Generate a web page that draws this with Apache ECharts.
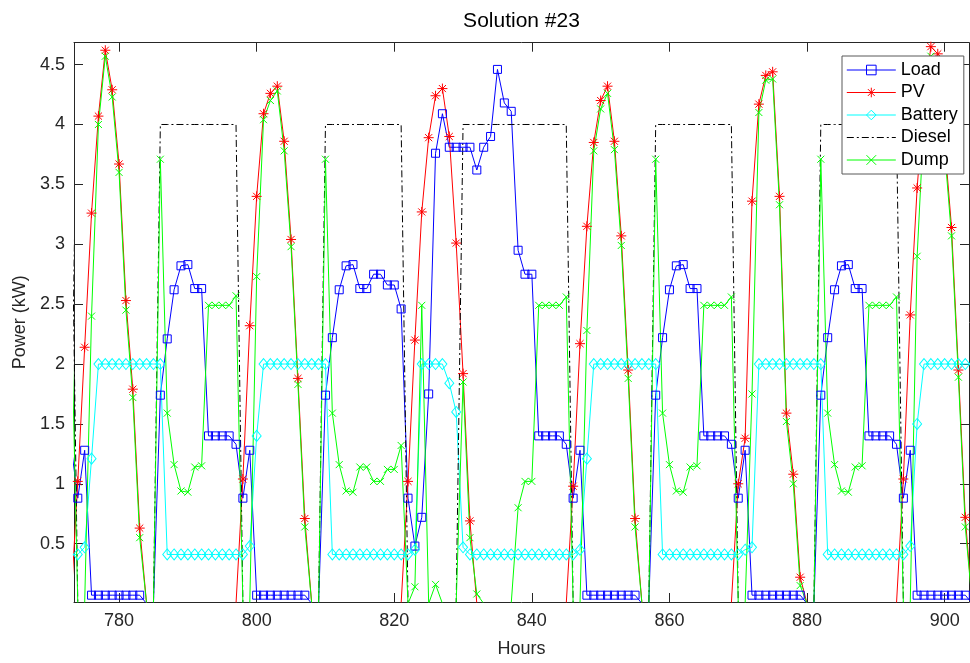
<!DOCTYPE html>
<html>
<head>
<meta charset="utf-8">
<script src="https://cdn.jsdelivr.net/npm/echarts@6/dist/echarts.min.js"></script>
<style>
  html, body { margin: 0; padding: 0; background: #fff; }
  #chart { width: 970px; height: 663px; }
</style>
</head>
<body>
<div id="chart"></div>
<script>
// Hourly power flows of the hybrid system (kW)
const hours = [
  773, 774, 775, 776, 777, 778, 779, 780, 781, 782, 783, 784, 785, 786, 787, 788, 789, 790, 791, 792, 793, 794, 795, 796,
  797, 798, 799, 800, 801, 802, 803, 804, 805, 806, 807, 808, 809, 810, 811, 812, 813, 814, 815, 816, 817, 818, 819, 820,
  821, 822, 823, 824, 825, 826, 827, 828, 829, 830, 831, 832, 833, 834, 835, 836, 837, 838, 839, 840, 841, 842, 843, 844,
  845, 846, 847, 848, 849, 850, 851, 852, 853, 854, 855, 856, 857, 858, 859, 860, 861, 862, 863, 864, 865, 866, 867, 868,
  869, 870, 871, 872, 873, 874, 875, 876, 877, 878, 879, 880, 881, 882, 883, 884, 885, 886, 887, 888, 889, 890, 891, 892,
  893, 894, 895, 896, 897, 898, 899, 900, 901, 902, 903, 904
];

const load = [
  1.33, 0.88, 1.28, 0.07, 0.07, 0.07, 0.07, 0.07, 0.07, 0.07, 0.07, 0, 0, 1.74, 2.21, 2.62, 2.82, 2.83, 2.63, 2.63, 1.40, 1.40, 1.40, 1.40,
  1.33, 0.88, 1.28, 0.07, 0.07, 0.07, 0.07, 0.07, 0.07, 0.07, 0.07, 0, 0, 1.74, 2.22, 2.62, 2.82, 2.83, 2.63, 2.63, 2.75, 2.75, 2.66, 2.66,
  2.46, 0.88, 0.48, 0.72, 1.75, 3.76, 4.09, 3.81, 3.81, 3.81, 3.81, 3.62, 3.81, 3.90, 4.46, 4.18, 4.11, 2.95, 2.75, 2.75, 1.40, 1.40, 1.40, 1.40,
  1.33, 0.88, 1.28, 0.07, 0.07, 0.07, 0.07, 0.07, 0.07, 0.07, 0.07, 0, 0, 1.74, 2.22, 2.62, 2.82, 2.83, 2.63, 2.63, 1.40, 1.40, 1.40, 1.40,
  1.33, 0.88, 1.28, 0.07, 0.07, 0.07, 0.07, 0.07, 0.07, 0.07, 0.07, 0, 0, 1.74, 2.22, 2.62, 2.82, 2.83, 2.63, 2.63, 1.40, 1.40, 1.40, 1.40,
  1.33, 0.88, 1.28, 0.07, 0.07, 0.07, 0.07, 0.07, 0.07, 0.07, 0.07, 0
];

const pv = [
  0, 1.02, 2.14, 3.26, 4.07, 4.62, 4.29, 3.67, 2.53, 1.79, 0.63, 0, 0, 0, 0, 0, 0, 0, 0, 0, 0, 0, 0, 0,
  0, 1.04, 2.32, 3.40, 4.09, 4.26, 4.32, 3.86, 3.04, 1.88, 0.71, 0, 0, 0, 0, 0, 0, 0, 0, 0, 0, 0, 0, 0,
  0, 1.02, 2.20, 3.27, 3.89, 4.24, 4.30, 3.90, 3.01, 1.92, 0.69, 0, 0, 0, 0, 0, 0, 0, 0, 0, 0, 0, 0, 0,
  0, 0.98, 2.17, 3.15, 3.85, 4.20, 4.32, 3.86, 3.07, 1.95, 0.71, 0, 0, 0, 0, 0, 0, 0, 0, 0, 0, 0, 0, 0,
  0, 1.00, 1.38, 3.36, 4.17, 4.41, 4.44, 3.40, 1.59, 1.08, 0.22, 0, 0, 0, 0, 0, 0, 0, 0, 0, 0, 0, 0, 0,
  0, 1.04, 2.41, 3.47, 4.20, 4.65, 4.59, 3.85, 3.14, 1.95, 0.72, 0
];

const battery = [
  0.41, 0.41, 0.47, 1.21, 2.00, 2.00, 2.00, 2.00, 2.00, 2.00, 2.00, 2.00, 2.00, 2.00, 0.41, 0.41, 0.41, 0.41, 0.41, 0.41, 0.41, 0.41, 0.41, 0.41,
  0.41, 0.41, 0.48, 1.40, 2.00, 2.00, 2.00, 2.00, 2.00, 2.00, 2.00, 2.00, 2.00, 2.00, 0.41, 0.41, 0.41, 0.41, 0.41, 0.41, 0.41, 0.41, 0.41, 0.41,
  0.41, 0.41, 0.45, 2.00, 2.00, 2.00, 2.00, 1.84, 1.60, 0.47, 0.41, 0.41, 0.41, 0.41, 0.41, 0.41, 0.41, 0.41, 0.41, 0.41, 0.41, 0.41, 0.41, 0.41,
  0.41, 0.41, 0.45, 1.21, 2.00, 2.00, 2.00, 2.00, 2.00, 2.00, 2.00, 2.00, 2.00, 2.00, 0.41, 0.41, 0.41, 0.41, 0.41, 0.41, 0.41, 0.41, 0.41, 0.41,
  0.41, 0.41, 0.45, 0.47, 2.00, 2.00, 2.00, 2.00, 2.00, 2.00, 2.00, 2.00, 2.00, 2.00, 0.41, 0.41, 0.41, 0.41, 0.41, 0.41, 0.41, 0.41, 0.41, 0.41,
  0.41, 0.41, 0.48, 1.50, 2.00, 2.00, 2.00, 2.00, 2.00, 2.00, 2.00, 2.00
];

const diesel = [
  4, 0, 0, 0, 0, 0, 0, 0, 0, 0, 0, 0, 0, 4, 4, 4, 4, 4, 4, 4, 4, 4, 4, 4,
  4, 0, 0, 0, 0, 0, 0, 0, 0, 0, 0, 0, 0, 4, 4, 4, 4, 4, 4, 4, 4, 4, 4, 4,
  4, 0, 0, 0, 0, 0, 0, 0, 0, 4, 4, 4, 4, 4, 4, 4, 4, 4, 4, 4, 4, 4, 4, 4,
  4, 0, 0, 0, 0, 0, 0, 0, 0, 0, 0, 0, 0, 4, 4, 4, 4, 4, 4, 4, 4, 4, 4, 4,
  4, 0, 0, 0, 0, 0, 0, 0, 0, 0, 0, 0, 0, 4, 4, 4, 4, 4, 4, 4, 4, 4, 4, 4,
  4, 0, 0, 0, 0, 0, 0, 0, 0, 0, 0, 0
];

const dump = [
  2.57, 0, 0, 2.40, 4.00, 4.57, 4.23, 3.60, 2.45, 1.72, 0.55, 0, 0, 3.71, 1.59, 1.16, 0.94, 0.93, 1.14, 1.15, 2.49, 2.49, 2.49, 2.49,
  2.57, 0, 0, 2.73, 4.04, 4.20, 4.28, 3.78, 2.98, 1.83, 0.64, 0, 0, 3.71, 1.59, 1.16, 0.94, 0.93, 1.14, 1.14, 1.02, 1.02, 1.12, 1.12,
  1.32, 0, 0.14, 2.49, 0, 0.16, 0, 0, 0, 1.85, 0.55, 0.08, 0, 0, 0, 0, 0, 0.80, 1.02, 1.02, 2.49, 2.49, 2.49, 2.49,
  2.56, 0, 0, 2.28, 3.78, 4.13, 4.26, 3.79, 2.99, 1.88, 0.64, 0, 0, 3.71, 1.59, 1.16, 0.94, 0.93, 1.14, 1.15, 2.49, 2.49, 2.49, 2.49,
  2.56, 0, 0, 1.75, 4.10, 4.37, 4.38, 3.33, 1.52, 1.00, 0.15, 0, 0, 3.71, 1.59, 1.16, 0.94, 0.93, 1.14, 1.15, 2.49, 2.49, 2.49, 2.49,
  2.56, 0, 0, 2.90, 4.05, 4.57, 4.52, 3.78, 3.07, 1.89, 0.64, 0
];

const xTicks = [780, 800, 820, 840, 860, 880, 900];
const yTicks = [0.5, 1, 1.5, 2, 2.5, 3, 3.5, 4, 4.5];
const X_MIN = 773.45, X_MAX = 903.54;
const Y_MIN = 0.013, Y_MAX = 4.683;

const FONT = "'Liberation Sans', Arial, Helvetica, sans-serif";
const INK = '#262626';

// marker outlines
const STAR = 'path://M0,-10L0,10M-10,0L10,0M-7.1,-7.1L7.1,7.1M-7.1,7.1L7.1,-7.1';
const CROSS = 'path://M-5,-5L5,5M-5,5L5,-5';

function pairs(values) {
  return hours.map((h, i) => [h, values[i]]);
}

function lineSeries(name, values, color, symbol, size, extra) {
  return Object.assign({
    name: name,
    type: 'line',
    data: pairs(values),
    clip: true,
    symbol: symbol,
    symbolSize: size,
    showAllSymbol: true,
    lineStyle: { color: color, width: 1 },
    itemStyle: { color: 'rgba(0,0,0,0)', borderColor: color, borderWidth: 1 },
    emphasis: { disabled: true },
    silent: true
  }, extra || {});
}

const chart = echarts.init(document.getElementById('chart'), null, { renderer: 'canvas' });

const option = {
  animation: false,
  backgroundColor: '#fff',
  textStyle: { fontFamily: FONT },
  graphic: [{
    type: 'text',
    x: 521.5,
    y: 21,
    style: {
      text: 'Solution #23',
      font: 'normal 21px ' + FONT,
      fill: '#000',
      textAlign: 'center',
      textVerticalAlign: 'middle'
    },
    z: 10
  }],
  grid: { left: 74, right: 1, top: 42.7, bottom: 51.7, containLabel: false },
  legend: {
    orient: 'vertical',
    left: 842,
    top: 56,
    itemWidth: 49,
    itemHeight: 12,
    itemGap: 0,
    padding: [2.75, 6, 2.75, 4.3],
    backgroundColor: '#fff',
    borderColor: '#595959',
    borderWidth: 1,
    borderRadius: 0,
    lineStyle: { width: 1 },
    itemStyle: { borderWidth: 1 },
    textStyle: { fontSize: 18, color: '#000', lineHeight: 22.5, fontFamily: FONT },
    data: ['Load', 'PV', 'Battery', 'Diesel', 'Dump']
  },
  xAxis: [{
    type: 'value',
    min: X_MIN,
    max: X_MAX,
    position: 'bottom',
    name: 'Hours',
    nameLocation: 'middle',
    nameGap: 38,
    nameTextStyle: { fontSize: 18, color: INK, fontFamily: FONT },
    axisLine: { show: true, onZero: false, lineStyle: { color: INK, width: 1 } },
    axisTick: { show: true, inside: true, length: 9, customValues: xTicks, lineStyle: { color: INK } },
    axisLabel: { customValues: xTicks, fontSize: 18, color: INK, margin: 10, fontFamily: FONT },
    splitLine: { show: false }
  }, {
    type: 'value',
    min: X_MIN,
    max: X_MAX,
    position: 'top',
    axisLine: { show: true, onZero: false, lineStyle: { color: INK, width: 1 } },
    axisTick: { show: true, inside: true, length: 9, customValues: xTicks, lineStyle: { color: INK } },
    axisLabel: { show: false },
    splitLine: { show: false }
  }],
  yAxis: [{
    type: 'value',
    min: Y_MIN,
    max: Y_MAX,
    position: 'left',
    name: 'Power (kW)',
    nameLocation: 'middle',
    nameGap: 41,
    nameRotate: 90,
    nameTextStyle: { fontSize: 18, color: INK, fontFamily: FONT },
    axisLine: { show: true, onZero: false, lineStyle: { color: INK, width: 1 } },
    axisTick: { show: true, inside: true, length: 9, customValues: yTicks, lineStyle: { color: INK } },
    axisLabel: { customValues: yTicks, fontSize: 18, color: INK, margin: 9, fontFamily: FONT },
    splitLine: { show: false }
  }, {
    type: 'value',
    min: Y_MIN,
    max: Y_MAX,
    position: 'right',
    axisLine: { show: true, onZero: false, lineStyle: { color: INK, width: 1 } },
    axisTick: { show: true, inside: true, length: 9, customValues: yTicks, lineStyle: { color: INK } },
    axisLabel: { show: false },
    splitLine: { show: false }
  }],
  series: [
    lineSeries('Load', load, '#0000ff', 'rect', 8),
    lineSeries('PV', pv, '#ff0000', STAR, 10),
    lineSeries('Battery', battery, '#00ffff', 'diamond', [9, 11]),
    lineSeries('Diesel', diesel, '#000000', 'none', 1, {
      lineStyle: { color: '#000000', width: 1, type: [7, 3, 2, 3] },
      itemStyle: { color: 'rgba(0,0,0,0)', borderWidth: 0 }
    }),
    lineSeries('Dump', dump, '#00ff00', CROSS, 7)
  ]
};

chart.setOption(option);
</script>
</body>
</html>
